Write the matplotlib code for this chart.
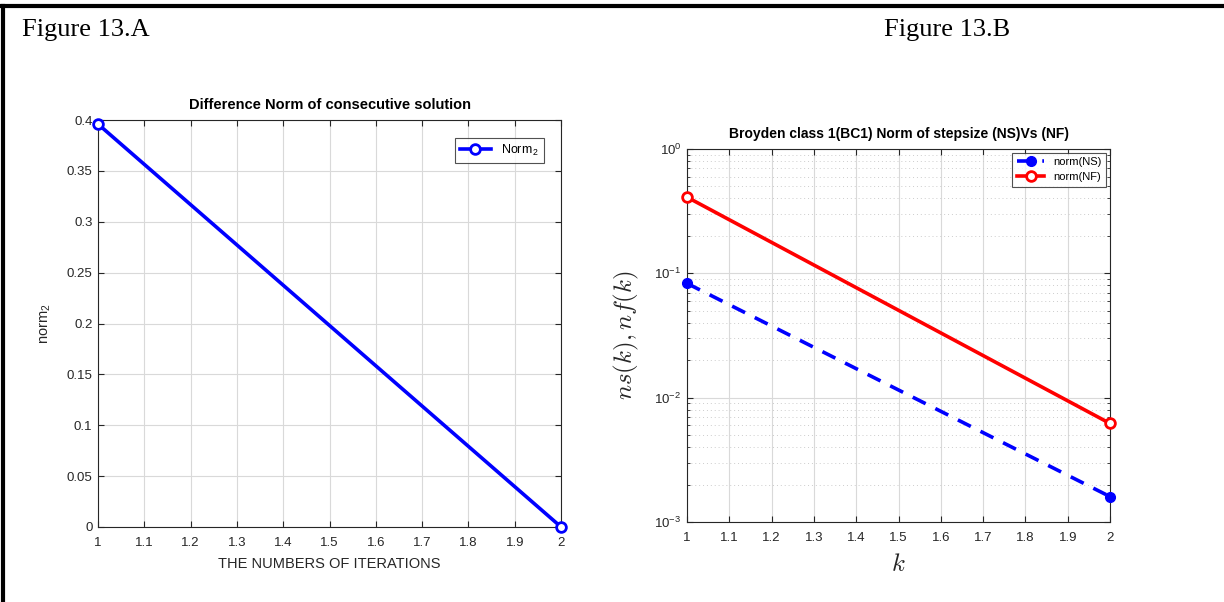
import numpy as np
import matplotlib.pyplot as plt
from matplotlib.ticker import LogLocator, NullFormatter

plt.rcParams['font.family'] = ['Liberation Sans', 'DejaVu Sans']
plt.rcParams['mathtext.fontset'] = 'cm'
plt.rcParams['axes.unicode_minus'] = False

# data
iters = [1, 2]
norm2 = [0.396, 0.0]
norm_ns = [0.083, 0.0016]
norm_nf = [0.41, 0.0062]

xticks = np.arange(1, 2.01, 0.1)
xtick_labels = ['1', '1.1', '1.2', '1.3', '1.4', '1.5', '1.6', '1.7',
                '1.8', '1.9', '2']
dark = (0.15, 0.15, 0.15)


def matlab_style(ax):
    ax.tick_params(direction='in', colors=dark, labelsize=9.5, length=4,
                   top=True, right=True, which='both')
    ax.tick_params(axis='x', pad=7)
    ax.tick_params(axis='y', pad=4)
    for s in ax.spines.values():
        s.set_color(dark)
        s.set_linewidth(0.8)
    ax.grid(True, which='major', color=(0.85, 0.85, 0.85), linewidth=0.8)
    ax.set_axisbelow(True)


fig = plt.figure(figsize=(12.24, 6.02), dpi=100)

# border lines (top and left)
fig.add_artist(plt.Line2D([0, 1], [0.9895, 0.9895], color='black', lw=3,
                          transform=fig.transFigure))
fig.add_artist(plt.Line2D([0.0025, 0.0025], [0, 0.99], color='black', lw=3,
                          transform=fig.transFigure))

fig.text(0.018, 0.95, 'Figure 13.A', family='Liberation Serif', fontsize=19,
         va='center', ha='left')
fig.text(0.722, 0.95, 'Figure 13.B', family='Liberation Serif', fontsize=19,
         va='center', ha='left')

# Figure 13.A
ax1 = fig.add_axes([0.0801, 0.1246, 0.3783, 0.676])
ax1.plot(iters, norm2, color='blue', lw=2.6, marker='o', ms=7,
         mfc='white', mew=2, label=r'Norm$_\mathdefault{2}$', clip_on=False,
         zorder=3)
ax1.set_xlim(1, 2)
ax1.set_ylim(0, 0.4)
ax1.set_xticks(xticks)
ax1.set_xticklabels(xtick_labels)
ax1.set_yticks(np.arange(0, 0.41, 0.05))
ax1.set_yticklabels(['0', '0.05', '0.1', '0.15', '0.2', '0.25', '0.3',
                     '0.35', '0.4'])
matlab_style(ax1)
ax1.set_title('Difference Norm of consecutive solution', fontsize=10.5,
              fontweight='bold', pad=8)
ax1.set_xlabel('THE NUMBERS OF ITERATIONS', fontsize=10.5, color=dark,
               labelpad=6)
ax1.set_ylabel(r'norm$_\mathdefault{2}$', fontsize=10.5, color=dark,
               labelpad=10)
leg1 = ax1.legend(loc='upper right', fontsize=9, fancybox=False,
                  edgecolor=dark, borderaxespad=1.4, handlelength=2.5)
leg1.get_frame().set_linewidth(0.8)

# Figure 13.B
ax2 = fig.add_axes([0.5613, 0.1329, 0.3456, 0.6196])
ax2.semilogy(iters, norm_ns, color='blue', lw=2.6, ls=(0, (4, 3)),
             marker='o', ms=7, label='norm(NS)', clip_on=False, zorder=3)
ax2.semilogy(iters, norm_nf, color='red', lw=2.6, marker='o', ms=7,
             mfc='white', mew=2, label='norm(NF)', clip_on=False, zorder=3)
ax2.set_xlim(1, 2)
ax2.set_ylim(1e-3, 1)
ax2.set_xticks(xticks)
ax2.set_xticklabels(xtick_labels)
ax2.yaxis.set_major_locator(LogLocator(base=10, numticks=10))
ax2.yaxis.set_minor_locator(LogLocator(base=10, subs=np.arange(2, 10),
                                       numticks=10))
ax2.yaxis.set_minor_formatter(NullFormatter())
matlab_style(ax2)
ax2.tick_params(axis='y', which='minor', length=2.5)
ax2.grid(True, which='minor', axis='y', color=(0.8, 0.8, 0.8),
         linestyle=(0, (1, 3)), linewidth=0.7)
ax2.set_title('Broyden class 1(BC1) Norm of stepsize (NS)Vs (NF)',
              fontsize=10, fontweight='bold', pad=8)
ax2.set_xlabel(r'$k$', fontsize=18, color=dark, labelpad=6)
ax2.set_ylabel(r'$ns(k), nf(k)$', fontsize=18, color=dark, labelpad=10)
leg2 = ax2.legend(loc='upper right', fontsize=8, fancybox=False,
                  edgecolor=dark, borderaxespad=0.35, handlelength=2.5,
                  labelspacing=0.45)
leg2.get_frame().set_linewidth(0.8)

fig.savefig('out.png', dpi=100, facecolor='white')
